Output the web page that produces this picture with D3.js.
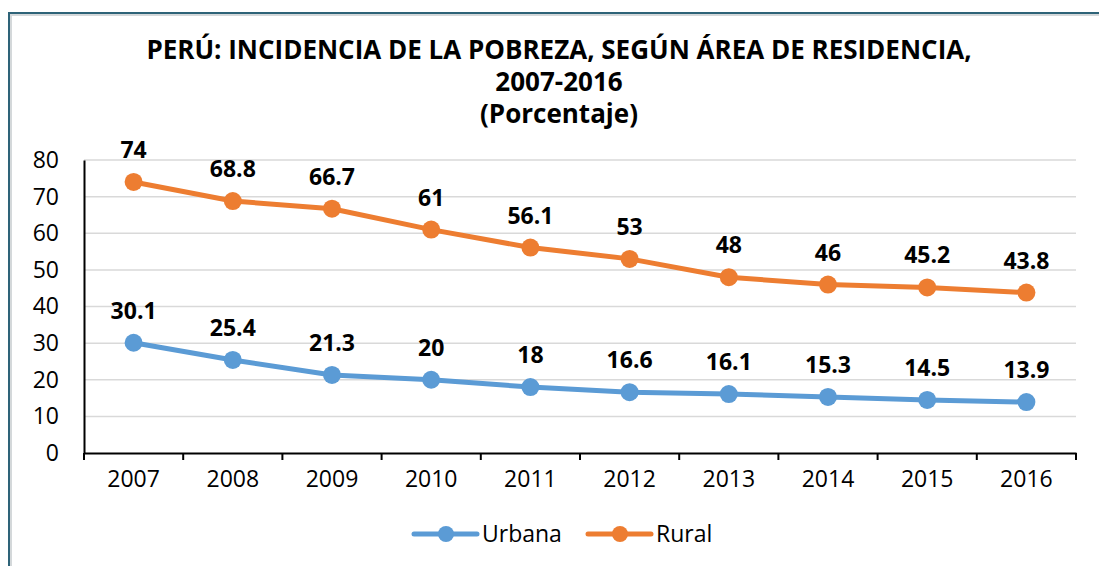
<!DOCTYPE html>
<html>
<head>
<meta charset="utf-8">
<script src="https://cdn.jsdelivr.net/npm/d3@7"></script>
<style>
  body { margin: 0; background: #fff; }
  svg { display: block; font-family: "Open Sans", sans-serif; }
</style>
</head>
<body>
<svg id="chart" width="1099" height="566"></svg>
<script>
// data
const years = ["2007", "2008", "2009", "2010", "2011", "2012", "2013", "2014", "2015", "2016"];
const urbana = [30.1, 25.4, 21.3, 20, 18, 16.6, 16.1, 15.3, 14.5, 13.9];
const rural = [74, 68.8, 66.7, 61, 56.1, 53, 48, 46, 45.2, 43.8];
const yTicks = [0, 10, 20, 30, 40, 50, 60, 70, 80];
const titleLines = [
  "PERÚ: INCIDENCIA DE LA POBREZA, SEGÚN ÁREA DE RESIDENCIA,",
  "2007-2016",
  "(Porcentaje)"
];

const series = [
  { name: "Urbana", values: urbana, color: "#5B9BD5" },
  { name: "Rural", values: rural, color: "#ED7D31" }
];

const svg = d3.select("#chart");
const W = 1099, H = 566;
const margin = { top: 160, right: 23, bottom: 113, left: 84 };
const innerW = W - margin.left - margin.right;
const innerH = H - margin.top - margin.bottom;

// frame
svg.append("rect")
  .attr("x", 11).attr("y", 15).attr("width", W).attr("height", H)
  .attr("fill", "none").attr("stroke", "#d4d8da").attr("stroke-width", 2);
svg.append("rect")
  .attr("x", 9).attr("y", 13).attr("width", W).attr("height", H)
  .attr("fill", "none").attr("stroke", "#2e6378").attr("stroke-width", 2);

// title
svg.append("text")
  .attr("x", 559).attr("y", 59)
  .attr("text-anchor", "middle")
  .attr("font-weight", "bold")
  .attr("font-size", 26)
  .attr("fill", "#000")
  .selectAll("tspan")
  .data(titleLines)
  .enter()
  .append("tspan")
  .attr("x", 559)
  .attr("dy", (d, i) => i === 0 ? 0 : 32)
  .text(d => d);

const g = svg.append("g").attr("transform", `translate(${margin.left},${margin.top})`);

const x = d3.scaleBand().domain(years).range([0, innerW]);
const y = d3.scaleLinear().domain([0, 80]).range([innerH, 0]);

// gridlines
g.append("g")
  .selectAll("line")
  .data(yTicks.filter(d => d > 0))
  .enter()
  .append("line")
  .attr("x1", 0).attr("x2", innerW)
  .attr("y1", d => y(d)).attr("y2", d => y(d))
  .attr("stroke", "#d9d9d9").attr("stroke-width", 1.5);

// y axis
const yAxis = g.append("g")
  .call(d3.axisLeft(y).tickValues(yTicks).tickSize(0).tickPadding(25));
yAxis.select(".domain").attr("stroke", "#000").attr("stroke-width", 2);
yAxis.selectAll("text").attr("font-size", 23).attr("fill", "#000")
  .attr("text-anchor", "end")
  .attr("font-family", "Open Sans, sans-serif");

// x axis
const xAxis = g.append("g")
  .attr("transform", `translate(0,${innerH})`)
  .call(d3.axisBottom(x).tickSize(0).tickPadding(18));
xAxis.select(".domain").attr("stroke", "#000").attr("stroke-width", 2);
xAxis.selectAll("text").attr("font-size", 23).attr("fill", "#000")
  .attr("font-family", "Open Sans, sans-serif");
// ticks at band boundaries
xAxis.append("g")
  .selectAll("line")
  .data(years.concat(["end"]))
  .enter()
  .append("line")
  .attr("x1", (d, i) => i * x.step()).attr("x2", (d, i) => i * x.step())
  .attr("y1", 0).attr("y2", 7)
  .attr("stroke", "#000").attr("stroke-width", 2);

const line = d3.line()
  .x((d, i) => x(years[i]) + x.bandwidth() / 2)
  .y(d => y(d));

series.forEach(s => {
  g.append("path")
    .datum(s.values)
    .attr("fill", "none")
    .attr("stroke", s.color)
    .attr("stroke-width", 5)
    .attr("stroke-linejoin", "round")
    .attr("d", line);

  g.append("g")
    .selectAll("circle")
    .data(s.values)
    .enter()
    .append("circle")
    .attr("cx", (d, i) => x(years[i]) + x.bandwidth() / 2)
    .attr("cy", d => y(d))
    .attr("r", 9)
    .attr("fill", s.color);

  g.append("g")
    .selectAll("text")
    .data(s.values)
    .enter()
    .append("text")
    .attr("x", (d, i) => x(years[i]) + x.bandwidth() / 2)
    .attr("y", d => y(d) - 24)
    .attr("text-anchor", "middle")
    .attr("font-size", 23)
    .attr("font-weight", "bold")
    .attr("fill", "#000")
    .text(d => d);
});

// legend
const legendItems = [
  { name: "Urbana", color: "#5B9BD5", x: 414 },
  { name: "Rural", color: "#ED7D31", x: 588 }
];
const legend = svg.append("g").attr("transform", "translate(0,534)");
legendItems.forEach(it => {
  const item = legend.append("g").attr("transform", `translate(${it.x},0)`);
  item.append("line")
    .attr("x1", 0).attr("x2", 63)
    .attr("stroke", it.color).attr("stroke-width", 5)
    .attr("stroke-linecap", "round");
  item.append("circle").attr("cx", 32).attr("r", 8).attr("fill", it.color);
  item.append("text")
    .attr("x", 68).attr("y", 8)
    .attr("font-size", 23).attr("fill", "#000")
    .text(it.name);
});
</script>
</body>
</html>
